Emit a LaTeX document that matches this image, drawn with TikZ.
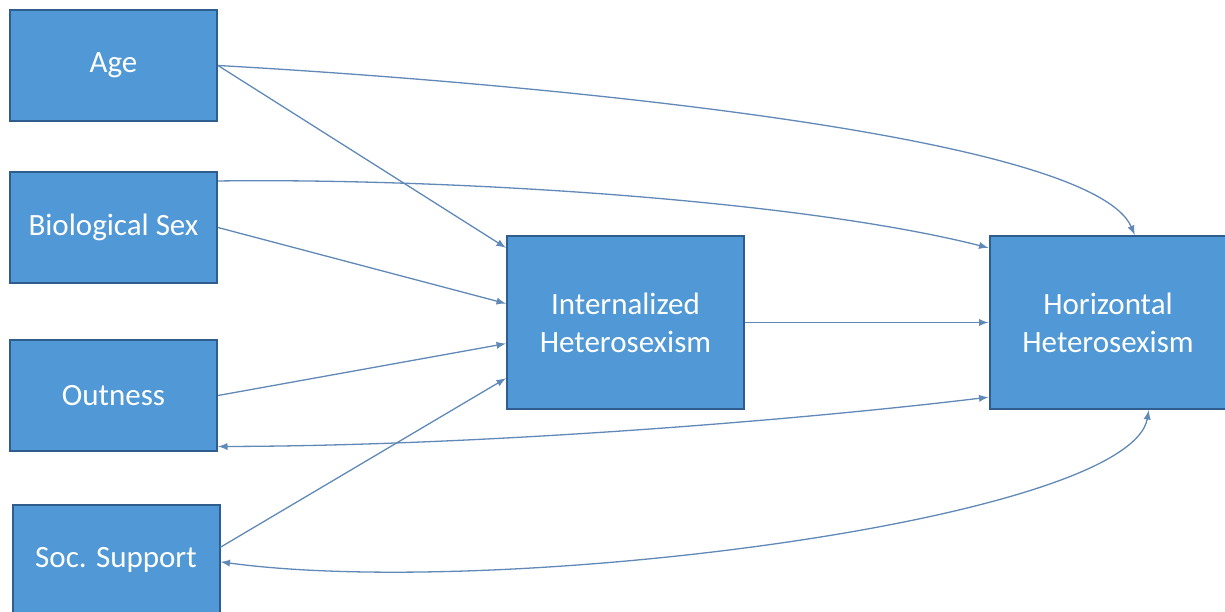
\documentclass[tikz,border=0pt]{standalone}
\usepackage{fontspec}
\setmainfont{Carlito}
\usetikzlibrary{calc}
\definecolor{boxfill}{HTML}{5098D6}
\definecolor{boxline}{HTML}{2F5E8E}
\definecolor{arrowcol}{HTML}{6089B8}
\tikzset{
  var/.style = {rectangle,draw=boxline,fill=boxfill,line width=1,inner sep=0pt,
                minimum width=103.5pt,minimum height=55.5pt,text=white,
                font=\fontsize{15.5}{19}\selectfont,align=center},
  construct/.style = {var,minimum width=118.5pt,minimum height=86.5pt},
  edge/.style = {->,>=latex,line width=0.65,draw=arrowcol},
  both/.style = {<->,>=latex,line width=0.65,draw=arrowcol},
}
\begin{document}
\begin{tikzpicture}[x=0.5pt,y=-0.5pt]
    \useasboundingbox (0,0) rectangle (1225,611);

    \node[var] at (113.5,65.5) (age) {Age};
    \node[var] at (113.5,227.5) (sex) {Biological Sex};
    \node[var] at (113.5,395.5) (outness) {Outness};
    \node[var] at (116,560) (support) {Soc. Support};
    \node[construct] at (625.5,322.5) (internal) {Internalized\\Heterosexism};
    \node[construct] at (1108,322.5) (horizontal) {Horizontal\\Heterosexism};


    \draw[edge] (age.east) to (internal.148.5);
    \draw[edge] (sex.east) to (internal.171.6);
    \draw[edge] (outness.east) to (internal.190.7);
    \draw[edge] (support.7.2) to (internal.205.1);

    \draw[edge] (internal.east) to (horizontal.west);

    \draw[edge] (age.east) .. controls (480,80) and (1090,130) .. (horizontal.73.9);
    \draw[edge] (sex.24.2) .. controls (450,178) and (800,200) .. (horizontal.148.3);
    \draw[both] (outness.334.9) .. controls (480,446) and (800,420) .. (horizontal.212);
    \draw[both] (support.-1) .. controls (500,600) and (1130,520) .. (horizontal.295.9);


\end{tikzpicture}
\end{document}
